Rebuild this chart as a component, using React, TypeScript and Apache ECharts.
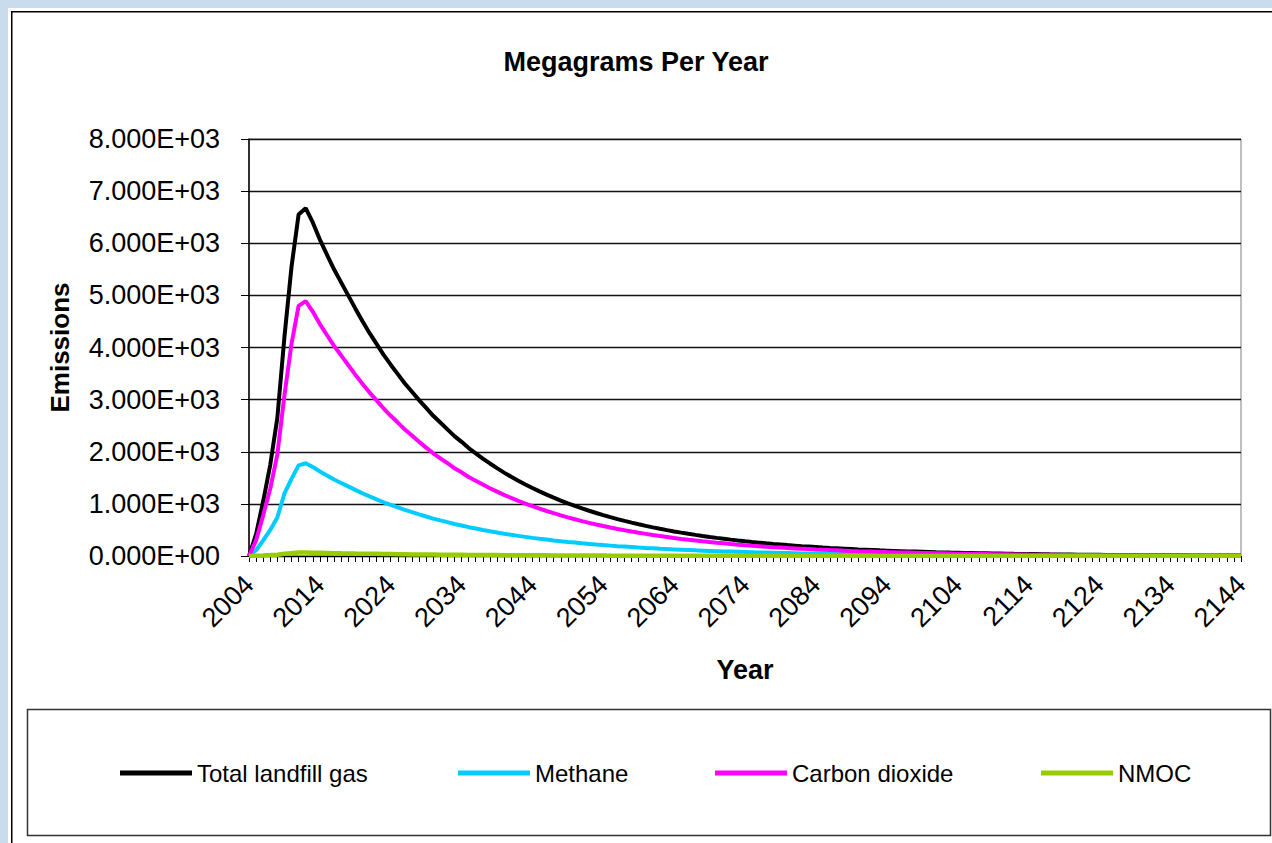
import React, { useEffect, useRef } from "react";
import * as echarts from "echarts";

const FONT = '"Liberation Sans", Arial, sans-serif';

const startYear = 2004;
const endYear = 2144;
const years: string[] = [];
for (let y = startYear; y <= endYear; y++) years.push(String(y));

const seriesNames = ["Total landfill gas", "Methane", "Carbon dioxide", "NMOC"];
const seriesColors = ["#000000", "#00ccff", "#ff00ff", "#99cc00"];

// Mg/yr, one value per year 2004..2144
const totalLandfillGas = [
  0, 420, 1050, 1750, 2650, 4200, 5550, 6550, 6673, 6400,
  6070, 5780, 5500, 5250, 5000, 4750, 4510, 4280, 4070, 3860,
  3670, 3490, 3310, 3150, 2990, 2840, 2690, 2560, 2430, 2300,
  2190, 2070, 1970, 1870, 1775, 1685, 1600, 1520, 1445, 1373,
  1305, 1240, 1178, 1120, 1064, 1011, 961, 913, 868, 825,
  784, 745, 708, 673, 640, 608, 578, 549, 522, 496,
  471, 448, 426, 405, 385, 366, 348, 331, 314, 298,
  283, 269, 256, 243, 231, 220, 209, 199, 189, 180,
  171, 162, 154, 147, 140, 133, 126, 120, 114, 108,
  103, 98, 93, 88, 84, 80, 76, 72, 69, 65,
  62, 59, 56, 53, 51, 48, 46, 44, 41, 39,
  37, 36, 34, 32, 31, 29, 28, 26, 25, 24,
  23, 21, 20, 19, 18, 17, 16, 16, 15, 14,
  13, 13, 12, 11, 11, 10, 10, 9, 9, 8,
  8,
];

const methane = [
  0, 110, 300, 500, 740, 1200, 1480, 1740, 1780, 1709,
  1621, 1543, 1469, 1402, 1335, 1268, 1204, 1143, 1087, 1031,
  980, 932, 884, 841, 798, 758, 718, 684, 649, 614,
  585, 553, 526, 499, 474, 450, 427, 406, 386, 367,
  348, 331, 315, 299, 284, 270, 257, 244, 232, 220,
  209, 199, 189, 180, 171, 162, 154, 147, 139, 132,
  126, 120, 114, 108, 103, 98, 93, 88, 84, 80,
  76, 72, 68, 65, 62, 59, 56, 53, 50, 48,
  46, 43, 41, 39, 37, 36, 34, 32, 30, 29,
  28, 26, 25, 23, 22, 21, 20, 19, 18, 17,
  17, 16, 15, 14, 14, 13, 12, 12, 11, 10,
  10, 10, 9, 9, 8, 8, 7, 7, 7, 6,
  6, 6, 5, 5, 5, 5, 4, 4, 4, 4,
  3, 3, 3, 3, 3, 3, 3, 2, 2, 2,
  2,
];

const carbonDioxide = [
  0, 300, 780, 1290, 1950, 3080, 4070, 4800, 4890, 4690,
  4450, 4240, 4030, 3850, 3665, 3480, 3305, 3140, 2985, 2830,
  2690, 2560, 2425, 2310, 2190, 2080, 1970, 1875, 1780, 1685,
  1605, 1515, 1444, 1370, 1300, 1235, 1173, 1114, 1059, 1006,
  957, 909, 863, 821, 780, 741, 704, 669, 636, 605,
  575, 546, 519, 493, 469, 446, 424, 402, 383, 364,
  345, 328, 312, 297, 282, 268, 255, 243, 230, 218,
  207, 197, 188, 178, 169, 161, 153, 146, 139, 132,
  125, 119, 113, 108, 103, 97, 92, 88, 84, 79,
  75, 72, 68, 65, 62, 59, 56, 53, 51, 48,
  45, 43, 41, 39, 37, 35, 34, 32, 30, 29,
  27, 26, 25, 23, 23, 21, 21, 19, 18, 18,
  17, 15, 15, 14, 13, 12, 12, 12, 11, 10,
  10, 10, 9, 8, 8, 7, 7, 7, 7, 6,
  6,
];

const nmoc = [
  0, 4, 10, 17, 26, 42, 55, 65, 67, 64,
  61, 58, 55, 52, 50, 47, 45, 43, 41, 39,
  37, 35, 33, 31, 30, 28, 27, 26, 24, 23,
  22, 21, 20, 19, 18, 17, 16, 15, 14, 14,
  13, 12, 12, 11, 11, 10, 10, 9, 9, 8,
  8, 7, 7, 7, 6, 6, 6, 5, 5, 5,
  5, 4, 4, 4, 4, 4, 3, 3, 3, 3,
  3, 3, 3, 2, 2, 2, 2, 2, 2, 2,
  2, 2, 2, 2, 1, 1, 1, 1, 1, 1,
  1, 1, 1, 1, 1, 1, 1, 1, 1, 1,
  1, 1, 1, 1, 1, 1, 1, 1, 1, 1,
  1, 1, 0, 0, 0, 0, 0, 0, 0, 0,
  0, 0, 0, 0, 0, 0, 0, 0, 0, 0,
  0, 0, 0, 0, 0, 0, 0, 0, 0, 0,
  0,
];

const seriesData = [totalLandfillGas, methane, carbonDioxide, nmoc];
const legendLefts = [120, 458, 715, 1041];

function sciFormat(v: number): string {
  if (v === 0) return "0.000E+00";
  const e = Math.floor(Math.log10(Math.abs(v)));
  const m = v / Math.pow(10, e);
  return m.toFixed(3) + "E" + (e >= 0 ? "+" : "-") + String(Math.abs(e)).padStart(2, "0");
}

export default function App() {
  const ref = useRef<HTMLDivElement>(null);
  useEffect(() => {
    document.body.style.margin = "0";
    const chart = echarts.init(ref.current!, null, { renderer: "svg" });
    chart.setOption({
      animation: false,
      backgroundColor: "#ffffff",
      title: {
        text: "Megagrams Per Year",
        left: "center",
        top: 43,
        textStyle: { fontFamily: FONT, fontSize: 27, fontWeight: "bold", color: "#000" },
      },
      legend: seriesNames.map((n, i) => ({
        data: [{ name: n, icon: "rect" }],
        left: legendLefts[i],
        top: 761,
        padding: 0,
        itemWidth: 72,
        itemHeight: 5,
        selectedMode: false,
        textStyle: { fontFamily: FONT, fontSize: 24, color: "#000" },
      })),
      grid: {
        left: 249,
        top: 139,
        right: 31,
        bottom: 287,
        show: true,
        borderColor: "#808080",
        borderWidth: 1,
      },
      xAxis: {
        type: "category",
        data: years,
        boundaryGap: false,
        name: "Year",
        nameLocation: "middle",
        nameGap: 100,
        nameTextStyle: { fontFamily: FONT, fontSize: 27, fontWeight: "bold", color: "#000" },
        axisLine: { lineStyle: { color: "#000", width: 1 } },
        axisTick: { show: true, interval: 0, length: 6, lineStyle: { color: "#000", width: 1 } },
        axisLabel: {
          interval: 9,
          rotate: 45,
          margin: 24,
          fontFamily: FONT,
          fontSize: 27,
          color: "#000",
        },
        splitLine: { show: false },
      },
      yAxis: {
        type: "value",
        min: 0,
        max: 8000,
        interval: 1000,
        name: "Emissions",
        nameLocation: "middle",
        nameGap: 176,
        nameRotate: 90,
        nameTextStyle: { fontFamily: FONT, fontSize: 26, fontWeight: "bold", color: "#000" },
        axisLine: { show: true, lineStyle: { color: "#000", width: 1.5 } },
        axisTick: { show: true, length: 8, lineStyle: { color: "#000", width: 1 } },
        axisLabel: {
          margin: 29,
          fontFamily: FONT,
          fontSize: 27,
          color: "#000",
          formatter: (v: number) => sciFormat(v),
        },
        splitLine: { lineStyle: { color: "#111", width: 1.3 } },
      },
      series: seriesNames.map((n, i) => ({
        name: n,
        type: "line",
        data: seriesData[i],
        color: seriesColors[i],
        showSymbol: false,
        symbol: "none",
        lineStyle: { color: seriesColors[i], width: i === 3 ? 4.5 : 4 },
        z: 2 + i,
      })),
      graphic: [
        { type: "rect", silent: true, shape: { x: 0, y: 0, width: 1272, height: 8 }, style: { fill: "#c8dcee" } },
        { type: "rect", silent: true, shape: { x: 0, y: 0, width: 8, height: 843 }, style: { fill: "#c8dcee" } },
        {
          type: "polyline",
          silent: true,
          shape: { points: [[11.75, 843], [11.75, 11.75], [1272, 11.75]] },
          style: { stroke: "#000", lineWidth: 1.5, fill: null },
        },
        {
          type: "rect",
          silent: true,
          shape: { x: 27.5, y: 709.5, width: 1243, height: 126 },
          style: { fill: "none", stroke: "#333", lineWidth: 1.5 },
        },
      ],
    });
    return () => chart.dispose();
  }, []);
  return <div ref={ref} style={{ width: 1272, height: 843 }} />;
}
